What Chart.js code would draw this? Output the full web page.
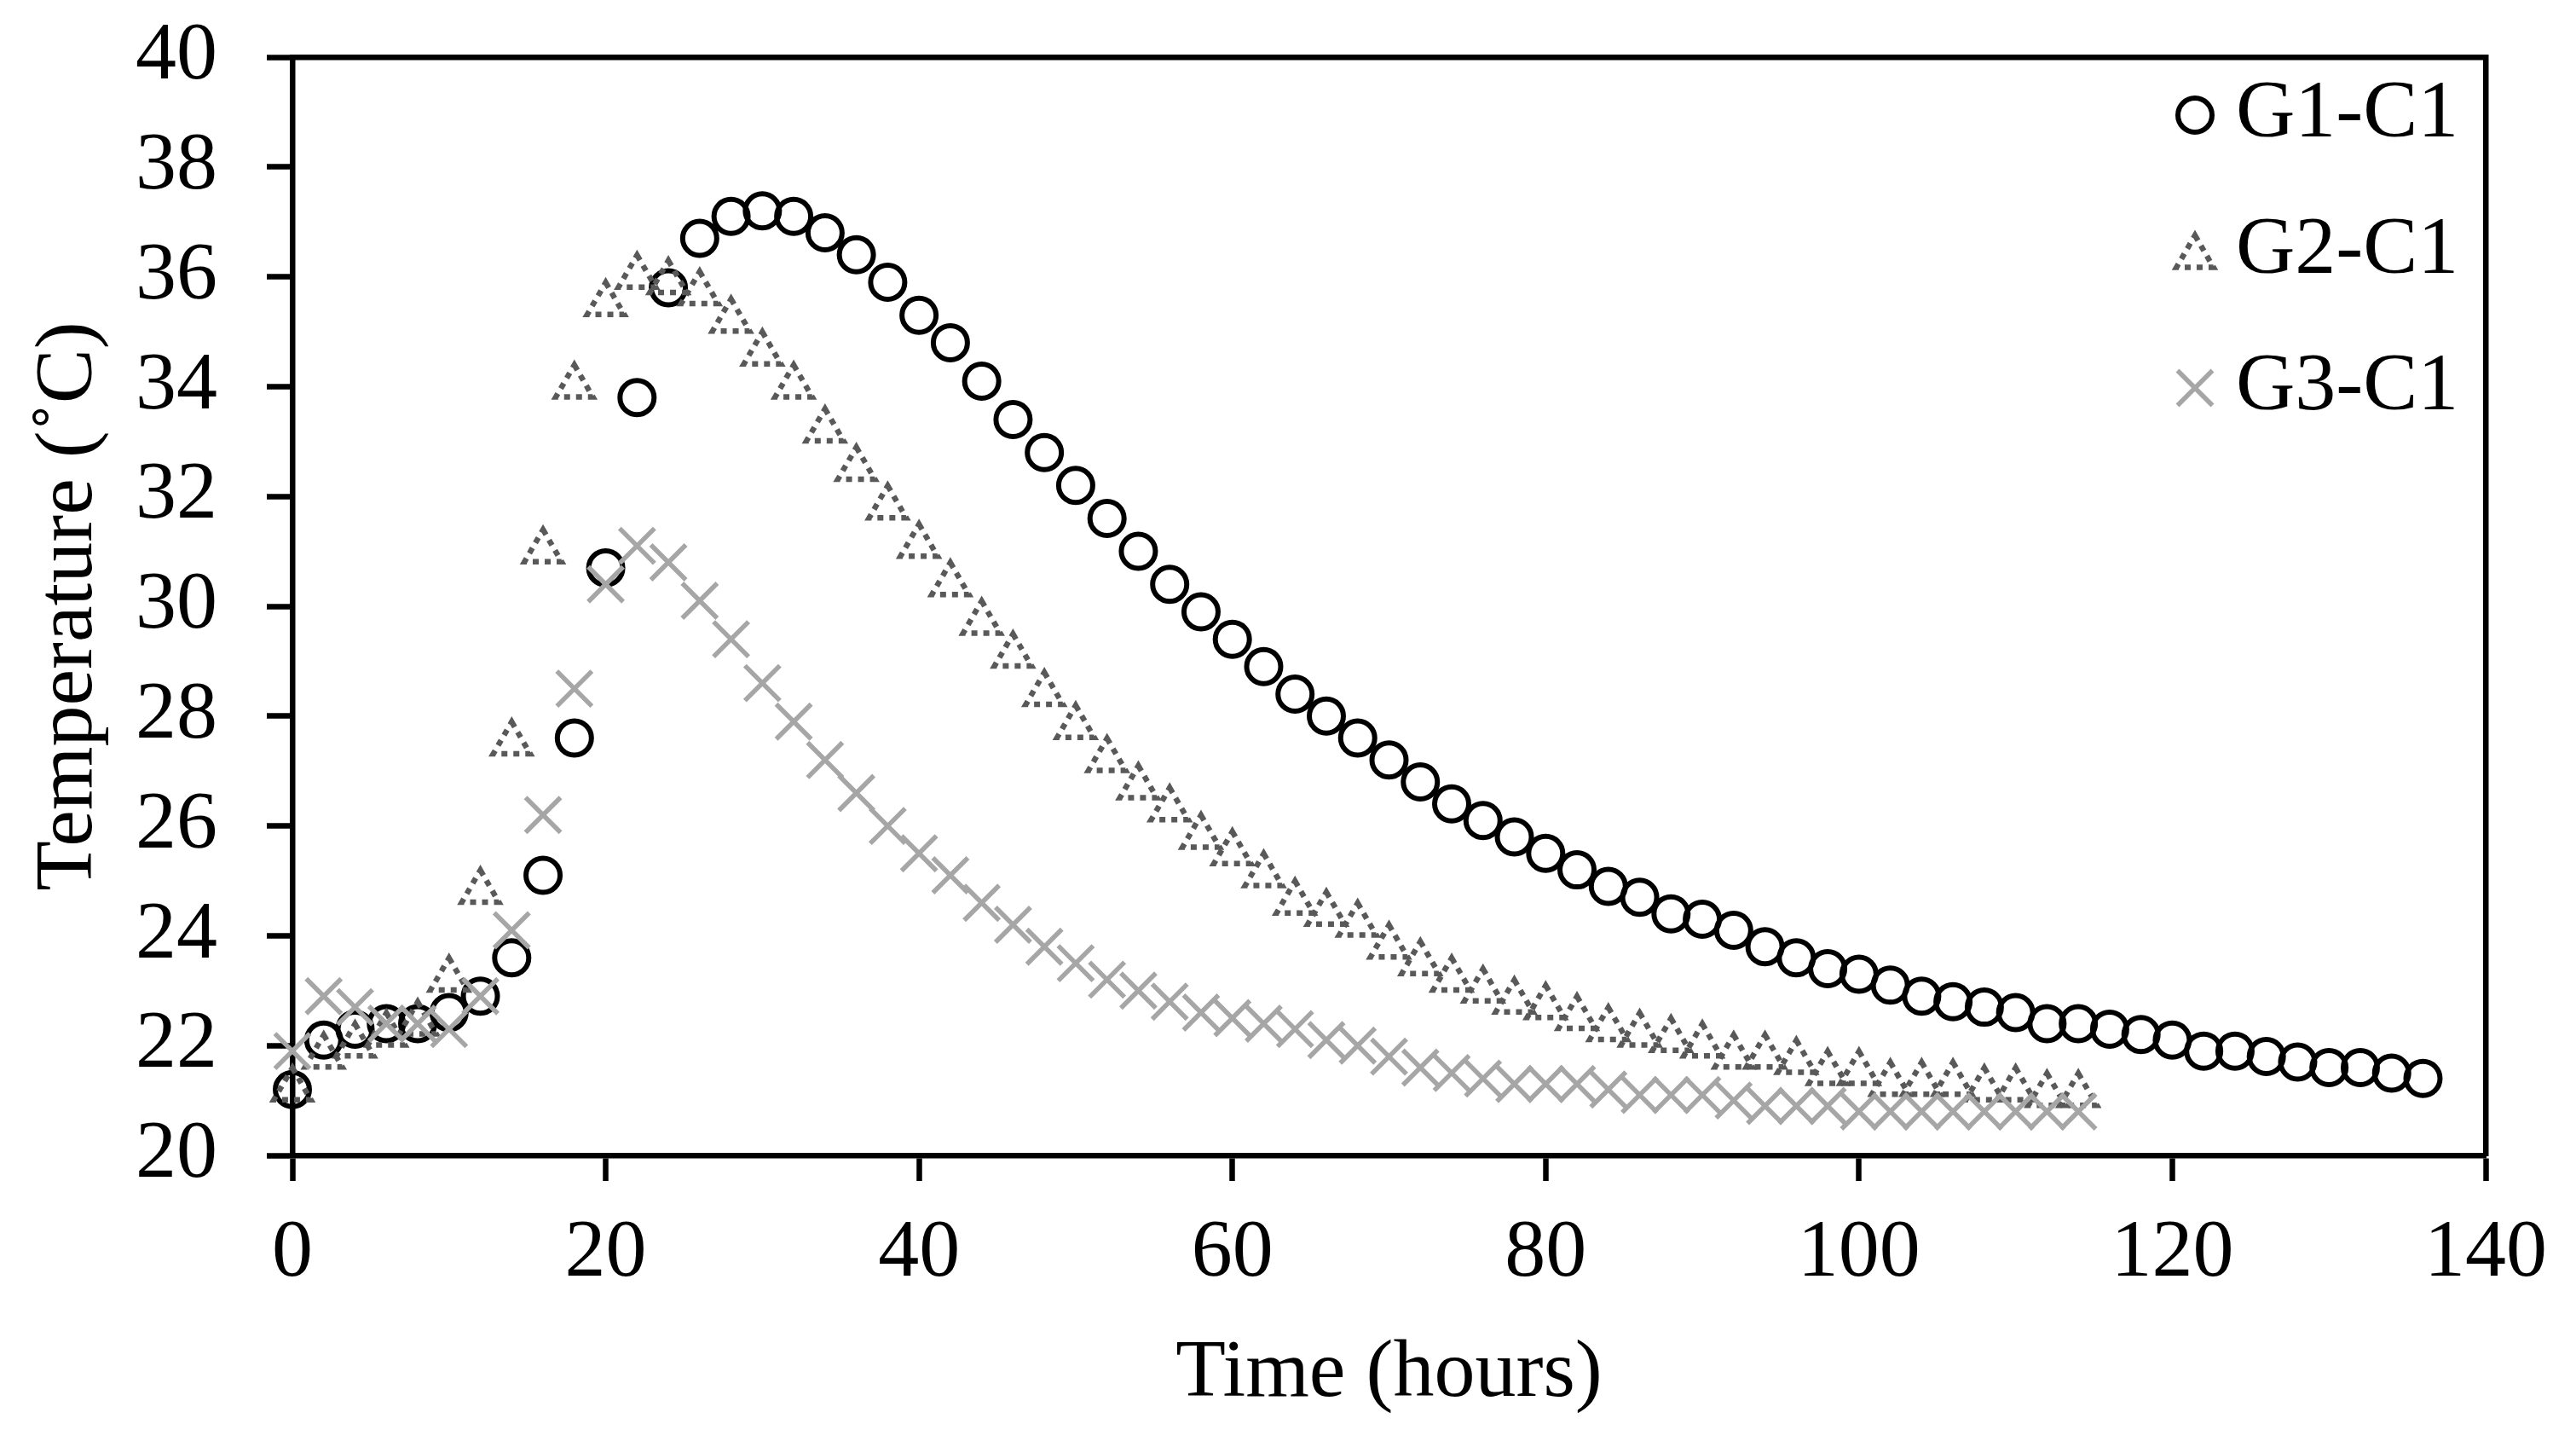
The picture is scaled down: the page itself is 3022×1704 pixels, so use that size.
<!DOCTYPE html>
<html>
<head>
<meta charset="utf-8">
<script src="https://cdn.jsdelivr.net/npm/chart.js@4/dist/chart.umd.min.js"></script>
<style>
  html, body { margin: 0; padding: 0; background: #ffffff; }
  #wrap { width: 3022px; height: 1704px; }
</style>
</head>
<body>
<div id="wrap"><canvas id="c" width="3022" height="1704" style="width:3022px;height:1704px"></canvas></div>
<script>
// ---- data ----
const hoursG1 = [0,2,4,6,8,10,12,14,16,18,20,22,24,26,28,30,32,34,36,38,40,42,44,46,48,50,52,54,56,58,60,62,64,66,68,70,72,74,76,78,80,82,84,86,88,90,92,94,96,98,100,102,104,106,108,110,112,114,116,118,120,122,124,126,128,130,132,134,136];
const tempG1 = [21.2,22.1,22.3,22.4,22.4,22.6,22.9,23.6,25.1,27.6,30.7,33.8,35.8,36.7,37.1,37.2,37.1,36.8,36.4,35.9,35.3,34.8,34.1,33.4,32.8,32.2,31.6,31.0,30.4,29.9,29.4,28.9,28.4,28.0,27.6,27.2,26.8,26.4,26.1,25.8,25.5,25.2,24.9,24.7,24.4,24.3,24.1,23.8,23.6,23.4,23.3,23.1,22.9,22.8,22.7,22.6,22.4,22.4,22.3,22.2,22.1,21.9,21.9,21.8,21.7,21.6,21.6,21.5,21.4];

const hoursG2 = [0,2,4,6,8,10,12,14,16,18,20,22,24,26,28,30,32,34,36,38,40,42,44,46,48,50,52,54,56,58,60,62,64,66,68,70,72,74,76,78,80,82,84,86,88,90,92,94,96,98,100,102,104,106,108,110,112,114];
const tempG2 = [21.3,21.9,22.1,22.3,22.5,23.3,24.9,27.6,31.1,34.1,35.6,36.1,36.0,35.8,35.3,34.7,34.1,33.3,32.6,31.9,31.2,30.5,29.8,29.2,28.5,27.9,27.3,26.8,26.4,25.9,25.6,25.2,24.7,24.5,24.3,23.9,23.6,23.3,23.1,22.9,22.8,22.6,22.4,22.3,22.2,22.1,21.9,21.9,21.8,21.6,21.6,21.4,21.4,21.4,21.3,21.3,21.2,21.2];

const hoursG3 = [0,2,4,6,8,10,12,14,16,18,20,22,24,26,28,30,32,34,36,38,40,42,44,46,48,50,52,54,56,58,60,62,64,66,68,70,72,74,76,78,80,82,84,86,88,90,92,94,96,98,100,102,104,106,108,110,112,114];
const tempG3 = [21.9,22.9,22.7,22.4,22.4,22.3,22.9,24.1,26.2,28.5,30.4,31.1,30.8,30.1,29.4,28.6,27.9,27.2,26.6,26.0,25.5,25.1,24.6,24.2,23.8,23.5,23.2,23.0,22.8,22.6,22.5,22.4,22.3,22.1,22.0,21.8,21.6,21.5,21.4,21.3,21.3,21.3,21.2,21.1,21.1,21.1,21.0,20.9,20.9,20.9,20.8,20.8,20.8,20.8,20.8,20.8,20.8,20.8];

const seriesLabels = ['G1-C1', 'G2-C1', 'G3-C1'];
const xTickMin = 0, xTickMax = 140, xTickStep = 20;
const yTickMin = 20, yTickMax = 40, yTickStep = 2;
const xTitle = 'Time (hours)';
const yTitle = 'Temperature (\u02DAC)';

// ---- styling ----
const FONT = "'Liberation Serif', 'Times New Roman', serif";
const toPoints = (xs, ys) => xs.map((h, i) => ({ x: h, y: ys[i] }));

// dotted marker outline + bounding-box centring for the triangle series
const markerStylePlugin = {
  id: 'markerStyle',
  beforeDatasetDraw(chart, args) {
    const ds = chart.data.datasets[args.index];
    if (ds.markerDash) {
      chart.ctx.save();
      chart.ctx.setLineDash(ds.markerDash);
      chart.ctx.translate(0, ds.markerShiftY || 0);
    }
  },
  afterDatasetDraw(chart, args) {
    const ds = chart.data.datasets[args.index];
    if (ds.markerDash) chart.ctx.restore();
  }
};

// legend drawn inside the plot area, top-right
const insideLegendPlugin = {
  id: 'insideLegend',
  afterDraw(chart) {
    const ctx = chart.ctx;
    const area = chart.chartArea;
    const markerX = area.right - 341;
    const textX = area.right - 293;
    chart.data.datasets.forEach((ds, i) => {
      const cy = area.top + 68 + i * 160;
      ctx.save();
      ctx.strokeStyle = ds.pointBorderColor;
      ctx.fillStyle = 'rgba(0,0,0,0)';
      ctx.lineWidth = ds.pointBorderWidth;
      if (ds.markerDash) ctx.setLineDash(ds.markerDash);
      Chart.helpers.drawPoint(ctx, {
        pointStyle: ds.pointStyle, rotation: 0,
        radius: ds.pointRadius, borderWidth: ds.pointBorderWidth
      }, markerX, cy + (ds.markerShiftY || 0));
      ctx.restore();
      ctx.save();
      ctx.fillStyle = '#000000';
      ctx.font = '96px ' + FONT;
      ctx.textAlign = 'left';
      ctx.textBaseline = 'middle';
      ctx.fillText(ds.label, textX, cy);
      ctx.restore();
    });
  }
};

Chart.defaults.color = '#000000';
Chart.defaults.font.family = FONT;

new Chart(document.getElementById('c'), {
  type: 'scatter',
  data: {
    datasets: [
      {
        label: seriesLabels[0], data: toPoints(hoursG1, tempG1),
        xAxisID: 'x', yAxisID: 'y', order: 3, clip: false,
        pointStyle: 'circle', pointRadius: 20, pointBorderWidth: 6,
        pointBorderColor: '#000000', pointBackgroundColor: 'rgba(0,0,0,0)',
        pointHoverRadius: 20, showLine: false
      },
      {
        label: seriesLabels[1], data: toPoints(hoursG2, tempG2),
        xAxisID: 'x', yAxisID: 'y', order: 2, clip: false,
        pointStyle: 'triangle', pointRadius: 25, pointBorderWidth: 6.5,
        pointBorderColor: '#595959', pointBackgroundColor: 'rgba(0,0,0,0)',
        pointHoverRadius: 25, showLine: false,
        markerDash: [7, 7], markerShiftY: 6
      },
      {
        label: seriesLabels[2], data: toPoints(hoursG3, tempG3),
        xAxisID: 'x', yAxisID: 'y', order: 1, clip: false,
        pointStyle: 'crossRot', pointRadius: 29, pointBorderWidth: 5.5,
        pointBorderColor: '#A6A6A6', pointBackgroundColor: 'rgba(0,0,0,0)',
        pointHoverRadius: 29, showLine: false
      }
    ]
  },
  options: {
    responsive: false,
    maintainAspectRatio: false,
    animation: false,
    devicePixelRatio: 1,
    events: [],
    layout: { padding: { left: 0, top: 67, right: 106, bottom: 0 } },
    plugins: { legend: { display: false }, tooltip: { enabled: false } },
    scales: {
      x: {
        type: 'linear', position: 'bottom', min: xTickMin, max: xTickMax,
        ticks: { stepSize: xTickStep, autoSkip: false, maxRotation: 0, padding: 28,
                 color: '#000000', font: { family: FONT, size: 96 } },
        grid: { drawOnChartArea: false, drawTicks: true, tickLength: 30, tickWidth: 6.5, tickColor: '#000000' },
        border: { display: true, color: '#000000', width: 6.5 },
        title: { display: true, text: xTitle, color: '#000000',
                 font: { family: FONT, size: 96 }, padding: { top: 0, bottom: 35 } },
        afterFit(s) { s.height = 349; s.paddingLeft = 0; s.paddingRight = 0; }
      },
      y: {
        type: 'linear', position: 'left', min: yTickMin, max: yTickMax,
        ticks: { stepSize: yTickStep, autoSkip: false, padding: 58,
                 color: '#000000', font: { family: FONT, size: 96 } },
        grid: { drawOnChartArea: false, drawTicks: true, tickLength: 30, tickWidth: 6.5, tickColor: '#000000' },
        border: { display: true, color: '#000000', width: 6.5 },
        title: { display: true, text: yTitle, color: '#000000',
                 font: { family: FONT, size: 96 }, padding: { top: 24, bottom: 0 } },
        afterFit(s) { s.width = 343; s.paddingTop = 0; s.paddingBottom = 0; }
      },
      x2: {
        type: 'linear', position: 'top', min: xTickMin, max: xTickMax, display: true,
        ticks: { display: false }, grid: { display: false, drawTicks: false },
        border: { display: true, color: '#000000', width: 6.5 },
        afterFit(s) { s.height = 0; s.paddingLeft = 0; s.paddingRight = 0; }
      },
      y2: {
        type: 'linear', position: 'right', min: yTickMin, max: yTickMax, display: true,
        ticks: { display: false }, grid: { display: false, drawTicks: false },
        border: { display: true, color: '#000000', width: 6.5 },
        afterFit(s) { s.width = 0; s.paddingTop = 0; s.paddingBottom = 0; }
      }
    }
  },
  plugins: [markerStylePlugin, insideLegendPlugin]
});
</script>
</body>
</html>
